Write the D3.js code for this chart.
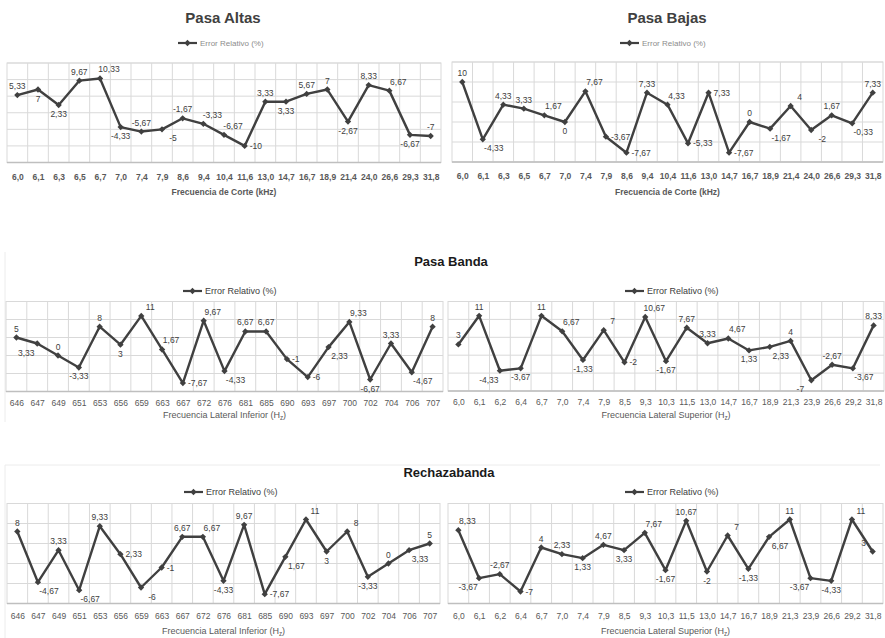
<!DOCTYPE html>
<html><head><meta charset="utf-8">
<script src="https://cdn.jsdelivr.net/npm/d3@7"></script>
<style>body{margin:0;background:#fff}svg{display:block;font-family:"Liberation Sans",Arial,sans-serif}</style>
</head><body>
<svg id="c" width="885" height="638"></svg>
<script>
// ---------- data ----------
const catsCorte = ["6,0","6,1","6,3","6,5","6,7","7,0","7,4","7,9","8,6","9,4","10,4","11,6","13,0","14,7","16,7","18,9","21,4","24,0","26,6","29,3","31,8"];
const catsInferior = ["646","647","649","651","653","656","659","663","667","672","676","681","685","690","693","697","700","702","704","706","707"];
const catsSuperior = ["6,0","6,1","6,2","6,4","6,7","7,0","7,4","7,9","8,5","9,3","10,3","11,5","13,0","14,7","16,7","18,9","21,3","23,9","26,6","29,2","31,8"];

const valsPasaAltas = [5.33,7,2.33,9.67,10.33,-4.33,-5.67,-5,-1.67,-3.33,-6.67,-10,3.33,3.33,5.67,7,-2.67,8.33,6.67,-6.67,-7];
const valsPasaBajas = [10,-4.33,4.33,3.33,1.67,0,7.67,-3.67,-7.67,7.33,4.33,-5.33,7.33,-7.67,0,-1.67,4,-2,1.67,-0.33,7.33];
const valsBandaInf = [5,3.33,0,-3.33,8,3,11,1.67,-7.67,9.67,-4.33,6.67,6.67,-1,-6,2.33,9.33,-6.67,3.33,-4.67,8];
const valsBandaSup = [3,11,-4.33,-3.67,11,6.67,-1.33,7,-2,10.67,-1.67,7.67,3.33,4.67,1.33,2.33,4,-7,-2.67,-3.67,8.33];
const valsRechInf = [8,-4.67,3.33,-6.67,9.33,2.33,-6,-1,6.67,6.67,-4.33,9.67,-7.67,1.67,11,3,8,-3.33,0,3.33,5];
const valsRechSup = [8.33,-3.67,-2.67,-7,4,2.33,1.33,4.67,3.33,7.67,-1.67,10.67,-2,7,-1.33,6.67,11,-3.67,-4.33,11,3];

const ticksAltas = [-15,-10,-5,0,5,10,15];
const ticksOther = [-10,-5,0,5,10,15];

// label placement codes (a above, b below, r right, l left, ar/al/br/bl diagonals)
const lpPasaAltas = ["a","b","b","a","ar","b","a","br","a","ar","ar","r","a","b","a","a","b","a","ar","b","a"];
const lpPasaBajas = ["a","br","a","a","ar","b","ar","r","r","a","ar","r","r","r","a","br","ar","br","a","br","a"];
const lpBandaInf = ["a","bl","a","b","a","b","ar","ar","r","ar","br","a","a","r","r","br","ar","b","a","br","a"];
const lpBandaSup = ["a","a","bl","b","a","ar","b","ar","r","ar","b","a","a","ar","b","br","a","bl","a","br","a"];
const lpRechInf = ["a","br","a","br","a","r","br","r","a","ar","b","a","r","br","ar","b","ar","b","a","br","a"];
const lpRechSup = ["ar","bl","a","r","a","a","b","a","b","ar","b","a","b","ar","b","br","a","bl","b","ar","al"];

const legendLabel = "Error Relativo (%)";
// ---------- drawing ----------
const svg = d3.select("#c");
const fmt = v => String(v).replace(".", ",");

// faint outer chart frames (bottom charts)
const frame = svg.append("g").attr("stroke","#ececec").attr("fill","none");
frame.append("line").attr("x1",5).attr("x2",5).attr("y1",252).attr("y2",422);
frame.append("line").attr("x1",5).attr("x2",5).attr("y1",465).attr("y2",638);
frame.append("line").attr("x1",5).attr("x2",880).attr("y1",465).attr("y2",465);

const marker = d3.symbol(d3.symbolSquare, 20);

function panel(o){
  const g = svg.append("g");
  const band = d3.scaleBand().domain(o.cats).range([o.x0,o.x1]).padding(0);
  const xs = d3.scalePoint().domain(o.cats).range([o.x0,o.x1]).padding(0.5);
  const y = d3.scaleLinear().domain(o.dom).range([o.y1,o.y0]);
  // gridlines
  g.append("g").selectAll("line").data(o.ticks).join("line")
    .attr("x1",o.x0).attr("x2",o.x1).attr("y1",d=>y(d)).attr("y2",d=>y(d))
    .attr("stroke","#d9d9d9").attr("stroke-width",1);
  g.append("g").selectAll("line").data(o.cats.slice(1)).join("line")
    .attr("x1",d=>band(d)).attr("x2",d=>band(d)).attr("y1",o.y0).attr("y2",o.y1)
    .attr("stroke","#d9d9d9").attr("stroke-width",1);
  g.append("rect").attr("x",o.x0).attr("y",o.y0).attr("width",o.x1-o.x0).attr("height",o.y1-o.y0)
    .attr("fill","none").attr("stroke","#d9d9d9");
  // bottom axis
  const ax = g.append("g").attr("transform",`translate(0,${o.y1})`)
    .call(d3.axisBottom(xs).tickSize(0).tickPadding(o.tickPad));
  ax.select(".domain").attr("stroke","#bfbfbf").attr("stroke-width",1.6).attr("d",`M${o.x0},0H${o.x1}`);
  ax.selectAll("text").attr("font-size",8.5).attr("fill","#595959").attr("font-weight",o.boldTicks?"bold":"normal")
    .attr("font-family","Liberation Sans, Arial, sans-serif");
  // line
  const pts = o.cats.map((c,i)=>({c, v:o.vals[i], p:o.pos[i]}));
  g.append("path").datum(pts)
    .attr("d", d3.line().x(d=>xs(d.c)).y(d=>y(d.v)))
    .attr("fill","none").attr("stroke","#404040").attr("stroke-width",2.4).attr("stroke-linejoin","round");
  g.append("g").selectAll("path").data(pts).join("path")
    .attr("d", marker)
    .attr("transform", d=>`translate(${xs(d.c)},${y(d.v)}) rotate(45)`)
    .attr("fill","#404040");
  // labels
  const off = {a:[0,-6,"middle"],b:[0,12,"middle"],ar:[9,-6,"middle"],al:[-9,-6,"middle"],
               br:[11,12,"middle"],bl:[-11,12,"middle"],r:[5,3,"start"],l:[-5,3,"end"]};
  g.append("g").selectAll("text").data(pts).join("text")
    .attr("x", d=>xs(d.c)+off[d.p][0]).attr("y", d=>y(d.v)+off[d.p][1])
    .attr("text-anchor", d=>off[d.p][2])
    .attr("font-size",8.5).attr("fill","#404040")
    .text(d=>fmt(d.v));
  // legend
  const lg = g.append("g").attr("transform",`translate(${o.legX},${o.legY})`);
  lg.append("line").attr("x1",0).attr("x2",19).attr("y1",0).attr("y2",0).attr("stroke","#404040").attr("stroke-width",2.2);
  lg.append("path").attr("d",marker).attr("transform","translate(9.5,0) rotate(45)").attr("fill","#404040");
  lg.append("text").attr("x",22).attr("y",3).attr("font-size",o.legSize).attr("fill",o.legColor).text(legendLabel);
  // axis title
  const t = g.append("text").attr("x",(o.x0+o.x1)/2).attr("y",o.titleY).attr("text-anchor","middle")
    .attr("font-size",o.titleSize).attr("fill","#595959").attr("font-weight",o.boldTicks?"bold":"normal");
  if (o.sub){
    t.append("tspan").text(o.axisTitle);
    t.append("tspan").attr("font-size",o.titleSize*0.7).attr("dy",2).text("z");
    t.append("tspan").attr("dy",-2).text(")");
  } else t.text(o.axisTitle);
}

panel({cats:catsCorte, vals:valsPasaAltas, pos:lpPasaAltas, dom:[-15,15], ticks:ticksAltas,
  x0:7,x1:441,y0:63,y1:162.5, tickPad:11, boldTicks:true, legX:178,legY:43, legSize:8, legColor:"#8c8c8c",
  titleY:195, titleSize:8.5, axisTitle:"Frecuencia de Corte (kHz)"});
panel({cats:catsCorte, vals:valsPasaBajas, pos:lpPasaBajas, dom:[-10,15], ticks:ticksOther,
  x0:452,x1:883,y0:62,y1:162, tickPad:11, boldTicks:true, legX:620,legY:43, legSize:8, legColor:"#8c8c8c",
  titleY:195, titleSize:8.5, axisTitle:"Frecuencia de Corte (kHz)"});
panel({cats:catsInferior, vals:valsBandaInf, pos:lpBandaInf, dom:[-10,15], ticks:ticksOther,
  x0:6,x1:443,y0:301.5,y1:391.5, tickPad:8, boldTicks:false, legX:183,legY:291, legSize:9, legColor:"#404040",
  titleY:418, titleSize:9, axisTitle:"Frecuencia Lateral Inferior (H", sub:true});
panel({cats:catsSuperior, vals:valsBandaSup, pos:lpBandaSup, dom:[-10,15], ticks:ticksOther,
  x0:448,x1:884,y0:301.5,y1:391, tickPad:8, boldTicks:false, legX:625,legY:291, legSize:9, legColor:"#404040",
  titleY:418, titleSize:9, axisTitle:"Frecuencia Lateral Superior (H", sub:true});
panel({cats:catsInferior, vals:valsRechInf, pos:lpRechInf, dom:[-10,15], ticks:ticksOther,
  x0:7,x1:440,y0:503.5,y1:603.5, tickPad:9, boldTicks:false, legX:184,legY:492, legSize:9, legColor:"#404040",
  titleY:634, titleSize:9, axisTitle:"Frecuencia Lateral Inferior (H", sub:true});
panel({cats:catsSuperior, vals:valsRechSup, pos:lpRechSup, dom:[-10,15], ticks:ticksOther,
  x0:448,x1:883,y0:503.5,y1:603.5, tickPad:9, boldTicks:false, legX:625,legY:492, legSize:9, legColor:"#404040",
  titleY:634, titleSize:9, axisTitle:"Frecuencia Lateral Superior (H", sub:true});

// chart titles
const titles = [["Pasa Altas",223,23,15,"#404040"],["Pasa Bajas",667,23,15,"#404040"],
                ["Pasa Banda",451,266,13,"#1a1a1a"],["Rechazabanda",449,477,13,"#1a1a1a"]];
svg.append("g").selectAll("text").data(titles).join("text")
  .attr("x",d=>d[1]).attr("y",d=>d[2]).attr("text-anchor","middle")
  .attr("font-size",d=>d[3]).attr("font-weight","bold").attr("fill",d=>d[4]).text(d=>d[0]);
</script>
</body></html>
